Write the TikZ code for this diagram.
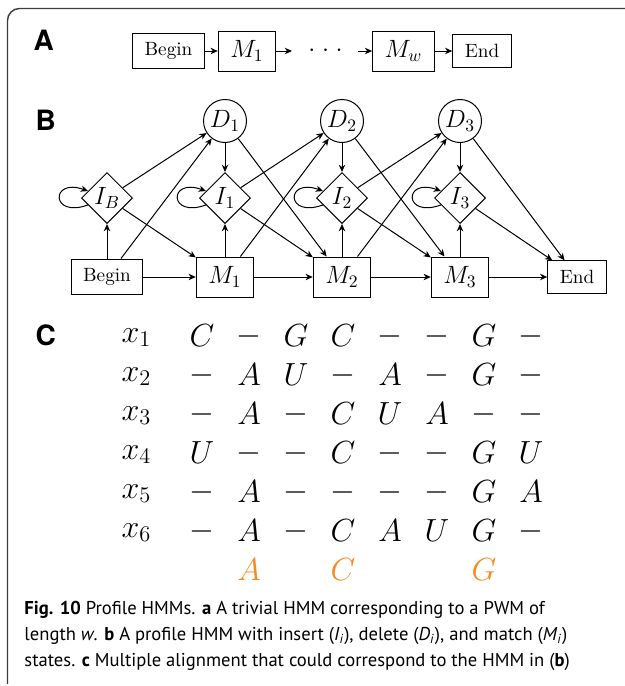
\documentclass[tikz,border=0pt]{standalone}
\usepackage{fontspec}
% scalable math letters and symbols at any size
\DeclareFontShape{OML}{cmm}{m}{it}{<-11>cmmi10<11->cmmi12}{}
\DeclareFontShape{OMS}{cmsy}{m}{n}{<->cmsy10}{}
\DeclareFontShape{OT1}{cmr}{m}{n}{<-11>cmr10<11->cmr12}{}
\newfontfamily\labelfont{TeX Gyre Heros}
\newfontfamily\capfont{PT Sans}
\usetikzlibrary{shapes.geometric,arrows.meta}
\definecolor{framegray}{RGB}{60,60,60}
\definecolor{consorange}{RGB}{247,137,31}

\begin{document}
\begin{tikzpicture}[x=0.5pt,y=-0.5pt,line width=0.5pt,
  >={Stealth[length=3.6pt,width=3.2pt,inset=1.1pt]},
  txtbox/.style={draw,font=\fontsize{9.6}{11}\selectfont,inner xsep=6pt,inner ysep=4.7pt},
  mbox/.style={draw,font=\fontsize{12.5}{14}\selectfont,inner xsep=6pt,inner ysep=0pt,minimum height=20pt},
  insbox/.style={draw,diamond,minimum size=25.5pt,inner sep=0pt,font=\fontsize{12.5}{14}\selectfont},
  delbox/.style={draw,circle,minimum size=21.5pt,inner sep=0pt,font=\fontsize{12.5}{14}\selectfont},
  selfloop/.style={->,out=200,in=160,min distance=20pt},
  panel/.style={font=\labelfont\bfseries\fontsize{14}{16}\selectfont,anchor=base west,inner sep=0pt},
  cell/.style={font=\fontsize{16}{18}\selectfont,inner sep=0pt},
  rowlabel/.style={font=\fontsize{16}{18}\selectfont,inner sep=0pt,anchor=base west},
  captext/.style={font=\capfont\fontsize{9.3}{11}\selectfont,inner sep=0pt,anchor=base west},
]
\useasboundingbox (0,0) rectangle (625,686);

% outer frame
\draw[framegray,line width=0.7pt,rounded corners=6pt] (7.5,684) -- (7.5,8.5) -- (660,8.5);

% panel labels
\node[panel] (lblA) at (33,50) {A};
\node[panel] (lblB) at (35,130) {B};
\node[panel] (lblC) at (35,345) {C};

% ---- A: trivial HMM
\node[txtbox] (a-begin) at (168.5,51) {Begin};
\node[mbox] (a-m1) at (247,51) {$M_1$};
\node[inner sep=0pt,font=\fontsize{12.5}{14}\selectfont] (a-dots) at (325.5,51) {$\cdot$\hspace{3.3pt}$\cdot$\hspace{3.3pt}$\cdot$};
\node[mbox] (a-mw) at (403.5,51) {$M_w$};
\node[txtbox] (a-end) at (482,51) {End};
\coordinate (a-out) at (292,51);
\coordinate (a-in) at (358,51);
\draw[->] (a-begin) -- (a-m1);
\draw[->] (a-m1) -- (a-out);
\draw[->] (a-in) -- (a-mw);
\draw[->] (a-mw) -- (a-end);

% ---- B: profile HMM
\node[txtbox] (b-begin) at (107,277) {Begin};
\node[mbox] (m1) at (225,277) {$M_1$};
\node[mbox] (m2) at (342,277) {$M_2$};
\node[mbox] (m3) at (460,277) {$M_3$};
\node[txtbox] (b-end) at (577,277) {End};
\node[insbox] (ib) at (107,198) {$I_B$};
\node[insbox] (i1) at (225,198) {$I_1$};
\node[insbox] (i2) at (342,198) {$I_2$};
\node[insbox] (i3) at (460,198) {$I_3$};
\node[delbox] (d1) at (225,121) {$D_1$};
\node[delbox] (d2) at (342,121) {$D_2$};
\node[delbox] (d3) at (460,121) {$D_3$};

\draw[->] (b-begin) -- (ib);
\draw[->] (b-begin) -- (m1);
\draw[->] (b-begin) -- (d1);
\draw[->] (ib) -- (d1);
\draw[->] (ib) -- (m1);
\foreach \k in {ib,i1,i2,i3} \draw[selfloop] (\k) to (\k);
\foreach \k in {1,2,3} {
  \draw[->] (d\k) -- (i\k);
  \draw[->] (m\k) -- (i\k);
}
\foreach \k/\n in {1/2,2/3} {
  \draw[->] (d\k) -- (m\n);
  \draw[->] (i\k) -- (d\n);
  \draw[->] (i\k) -- (m\n);
  \draw[->] (m\k) -- (d\n);
  \draw[->] (m\k) -- (m\n);
}
\draw[->] (d3) -- (b-end);
\draw[->] (i3) -- (b-end);
\draw[->] (m3) -- (b-end);

% ---- C: multiple alignment
\foreach \seq [count=\r] in {{C,-,G,C,-,-,G,-},{-,A,U,-,A,-,G,-},{-,A,-,C,U,A,-,-},{U,-,-,C,-,-,G,U},{-,A,-,-,-,-,G,A},{-,A,-,C,A,U,G,-}} {
  \node[rowlabel] (x\r) at (121,303+39*\r) {$x_{\r}$};
  \foreach \s [count=\c] in \seq
    \node[cell] (s\r-\c) at (155+47*\c,297+39*\r) {$\s$};
}
\node[cell,text=consorange] (cons-2) at (249,570) {$A$};
\node[cell,text=consorange] (cons-4) at (343,570) {$C$};
\node[cell,text=consorange] (cons-7) at (484,570) {$G$};

% ---- caption
\node[captext] (cap1) at (24,614.5) {\textbf{Fig. 10} Profile HMMs. \textbf{a} A trivial HMM corresponding to a PWM of};
\node[captext] (cap2) at (24,640.5) {length \textit{w}. \textbf{b} A profile HMM with insert (\textit{I}\textsubscript{\textit{i}}), delete (\textit{D}\textsubscript{\textit{i}}), and match (\textit{M}\textsubscript{\textit{i}})};
\node[captext] (cap3) at (24,666.5) {states. \textbf{c} Multiple alignment that could correspond to the HMM in (\textbf{b})};
\end{tikzpicture}
\end{document}
